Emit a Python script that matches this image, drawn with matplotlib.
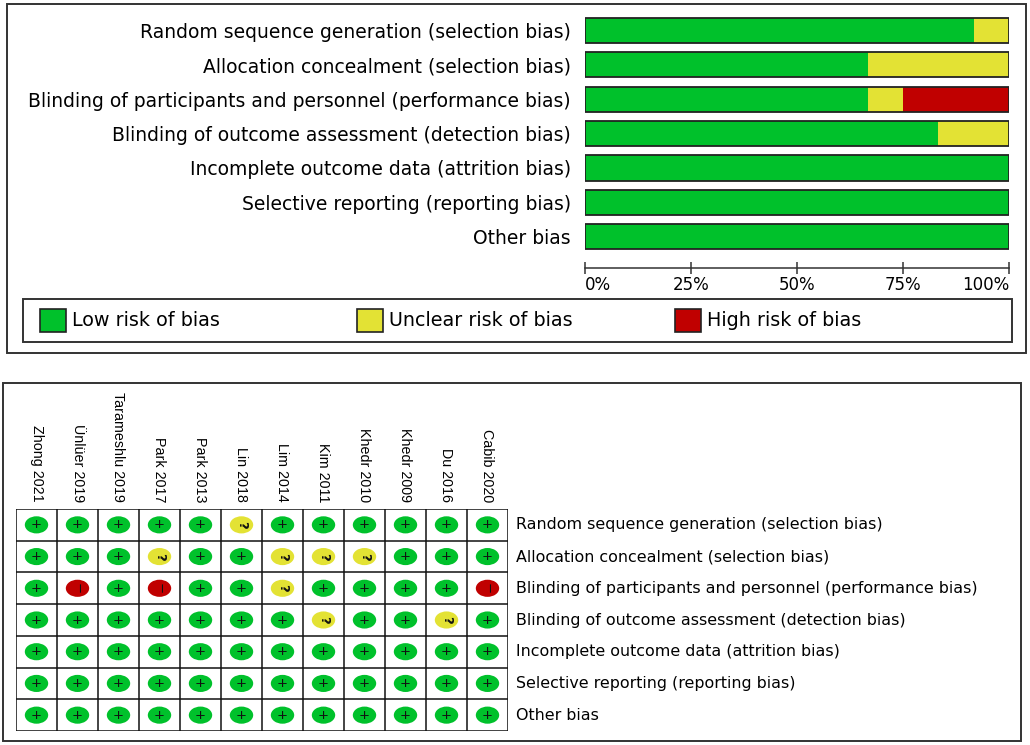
import matplotlib
matplotlib.use("Agg")
from matplotlib import pyplot as plt
from matplotlib.patches import Rectangle, Ellipse

plt.rcParams['font.family'] = ['DejaVu Sans']

# 数据
domains = ["Random sequence generation (selection bias)",
           "Allocation concealment (selection bias)",
           "Blinding of participants and personnel (performance bias)",
           "Blinding of outcome assessment (detection bias)",
           "Incomplete outcome data (attrition bias)",
           "Selective reporting (reporting bias)",
           "Other bias"]
studies = ["Zhong 2021", "Ünlüer 2019", "Tarameshlu 2019", "Park 2017", "Park 2013",
           "Lin 2018", "Lim 2014", "Kim 2011", "Khedr 2010", "Khedr 2009", "Du 2016", "Cabib 2020"]
# 每个领域一行, 每个研究一列: + 低风险, ? 不清楚, - 高风险
judgements = [
    ["+", "+", "+", "+", "+", "?", "+", "+", "+", "+", "+", "+"],
    ["+", "+", "+", "?", "+", "+", "?", "?", "?", "+", "+", "+"],
    ["+", "-", "+", "-", "+", "+", "?", "+", "+", "+", "+", "-"],
    ["+", "+", "+", "+", "+", "+", "+", "?", "+", "+", "?", "+"],
    ["+", "+", "+", "+", "+", "+", "+", "+", "+", "+", "+", "+"],
    ["+", "+", "+", "+", "+", "+", "+", "+", "+", "+", "+", "+"],
    ["+", "+", "+", "+", "+", "+", "+", "+", "+", "+", "+", "+"],
]
xtick_vals = [0, 25, 50, 75, 100]
xtick_labels = ["0%", "25%", "50%", "75%", "100%"]
legend_labels = ["Low risk of bias", "Unclear risk of bias", "High risk of bias"]
colors = {"+": "#00c12b", "?": "#e3e234", "-": "#c00000"}
keys = ["+", "?", "-"]

W, H = 1030, 745
fig = plt.figure(figsize=(W / 100, H / 100), dpi=100)

def box(x0, y0, x1, y1):
    # 像素 -> 图坐标
    return [x0 / W, 1 - y1 / H, (x1 - x0) / W, (y1 - y0) / H]

def frame(x0, y0, x1, y1, lw=1.4):
    b = box(x0, y0, x1, y1)
    fig.patches.append(Rectangle((b[0], b[1]), b[2], b[3], transform=fig.transFigure,
                                 fill=False, edgecolor="#333333", linewidth=lw))

# 外框
frame(7, 4, 1026, 353)
frame(23, 299, 1012, 342)
frame(3, 383, 1021, 741)

# 上: 百分比条形图
n = len(studies)
pct = {k: [100 * row.count(k) / n for row in judgements] for k in keys}
ax1 = fig.add_axes(box(585, 13, 1009, 268))
ypos = list(range(len(domains)))
left = [0] * len(domains)
for k in keys:
    ax1.barh(ypos, pct[k], left=left, height=0.73, color=colors[k], edgecolor="none")
    left = [a + b for a, b in zip(left, pct[k])]
ax1.barh(ypos, [100] * len(domains), height=0.73, fill=False, edgecolor="#222222", linewidth=1.3)
ax1.set_xlim(0, 100)
ax1.set_ylim(6.91, -0.51)
ax1.set_yticks(ypos)
ax1.set_yticklabels(domains, fontsize=13.5)
ax1.tick_params(axis="y", length=0, pad=10)
ax1.set_xticks(xtick_vals)
ax1.set_xticklabels(xtick_labels, fontsize=12)
ax1.tick_params(axis="x", direction="inout", length=9, width=1.1, color="#333333", pad=1)
for s in ["top", "right", "left"]:
    ax1.spines[s].set_visible(False)
ax1.spines["bottom"].set_color("#333333")
ax1.spines["bottom"].set_linewidth(1.1)
tl = ax1.get_xticklabels()
tl[0].set_ha("left")
tl[-1].set_ha("right")

# 图例
leg_x = [40, 357, 675]
for k, lab, lx in zip(keys, legend_labels, leg_x):
    b = box(lx, 309, lx + 26, 332)
    fig.patches.append(Rectangle((b[0], b[1]), b[2], b[3], transform=fig.transFigure,
                                 facecolor=colors[k], edgecolor="#222222", linewidth=1.2))
    fig.text((lx + 32) / W, 1 - 320.5 / H, lab, fontsize=13.8, ha="left", va="center")

# 下: 偏倚风险汇总
ax2 = fig.add_axes(box(16, 509, 508, 731))
ax2.set_xlim(0, n)
ax2.set_ylim(len(domains), 0)
for i in range(n + 1):
    ax2.axvline(i, color="#111111", linewidth=1.1)
for j in range(len(domains) + 1):
    ax2.axhline(j, color="#111111", linewidth=1.1)
sym = {"+": "+", "?": "?", "-": "−"}
for j, row in enumerate(judgements):
    for i, v in enumerate(row):
        ax2.add_patch(Ellipse((i + 0.5, j + 0.5), 0.57, 0.54, facecolor=colors[v], edgecolor="none"))
        ax2.text(i + 0.5, j + 0.5, sym[v], ha="center", va="center",
                 fontsize=9.5 if v == "+" else 9.5, fontweight="bold" if v == "?" else "normal",
                 rotation=0 if v == "+" else -90, color="#111111")
ax2.set_xticks([])
ax2.set_yticks([])
for s in ax2.spines.values():
    s.set_visible(False)

for i, st in enumerate(studies):
    ax2.text(i + 0.5, -0.22, st, rotation=-90, ha="center", va="bottom", fontsize=10.3,
             family=["Liberation Sans Narrow", "Liberation Sans"])
for j, d in enumerate(domains):
    ax2.text(n + 8 / 41, j + 0.5, d, ha="left", va="center", fontsize=11.4)

fig.savefig("out.png", dpi=100)
